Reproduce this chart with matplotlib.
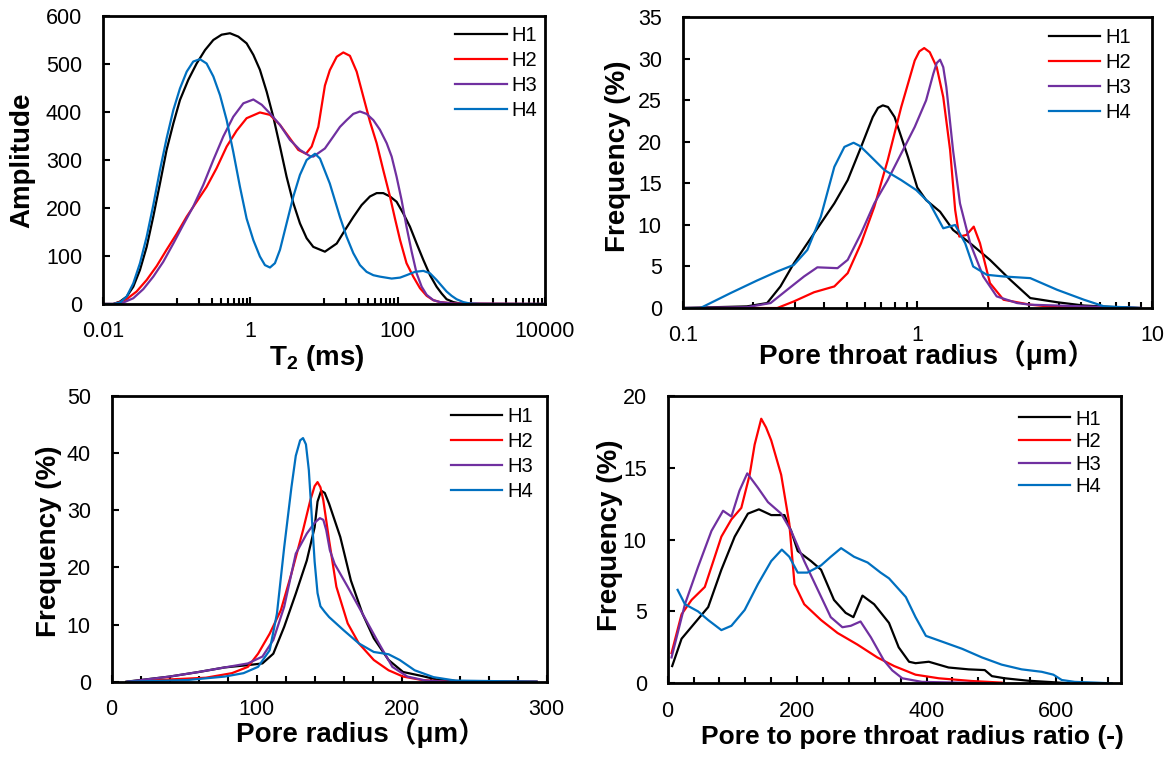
import matplotlib
matplotlib.use('Agg')
import matplotlib.pyplot as plt
from matplotlib.ticker import FixedLocator, MultipleLocator, LogLocator, NullFormatter

plt.rcParams['font.family'] = ['Liberation Sans', 'Noto Sans CJK SC']
plt.rcParams['mathtext.fontset'] = 'custom'
plt.rcParams['mathtext.rm'] = 'Liberation Sans'
plt.rcParams['mathtext.bf'] = 'Liberation Sans:bold'

names = ['H1', 'H2', 'H3', 'H4']
colors = ['#000000', '#FF0000', '#7030A0', '#0070C0']

# NMR T2 spectra
t2_h1 = [0.01, 0.0138, 0.0170, 0.0209, 0.0258, 0.0318, 0.0392, 0.0482, 0.0594, 0.0731,
         0.0902, 0.111, 0.144, 0.187, 0.243, 0.315, 0.408, 0.530, 0.687, 0.891,
         1.10, 1.35, 1.67, 2.05, 2.53, 3.11, 3.84, 4.72, 5.82, 7.16,
         10.3, 14.9, 19.3, 25.0, 32.4, 42.1, 51.9, 63.8, 78.7, 96.8,
         119, 147, 181, 223, 275, 338, 395, 462, 570, 701, 955, 10000]
amp_h1 = [0, 0, 5, 15, 36, 71, 119, 182, 251, 321,
          376, 425, 467, 501, 529, 550, 561, 564, 557, 543,
          519, 488, 442, 390, 328, 265, 210, 168, 137, 119,
          109, 126, 154, 181, 206, 224, 231, 231, 224, 213,
          189, 161, 126, 92, 60, 36, 22, 10, 4, 1, 0, 0]
t2_h2 = [0.01, 0.0138, 0.0170, 0.0209, 0.0286, 0.0392, 0.0536, 0.0731, 0.100, 0.137,
         0.187, 0.255, 0.349, 0.478, 0.652, 0.891, 1.35, 1.85, 2.53, 3.45,
         4.48, 5.70, 6.81, 8.38, 10.3, 12.0, 14.9, 18.3, 22.5, 27.8,
         34.2, 42.1, 51.9, 63.8, 78.7, 92, 108, 132, 163, 201, 248,
         305, 376, 570, 10000]
amp_h2 = [0, 0, 4, 10, 26, 50, 79, 113, 146, 182,
          213, 244, 283, 328, 361, 387, 399, 394, 373, 345,
          321, 313, 328, 369, 455, 487, 515, 524, 517, 484,
          432, 380, 335, 279, 224, 178, 133, 85, 57, 33, 17,
          8, 4, 1, 0]
t2_h3 = [0.01, 0.0138, 0.0189, 0.0258, 0.0353, 0.0482, 0.0659, 0.0902, 0.123, 0.168,
         0.230, 0.315, 0.430, 0.587, 0.804, 1.10, 1.43, 1.85, 2.53, 3.45,
         4.72, 6.46, 7.16, 10.3, 13.4, 16.5, 20.3, 25.0, 30.8, 37.9,
         46.8, 57.5, 71.0, 83.0, 96.8, 113, 132, 155, 181, 212,
         248, 305, 376, 570, 10000]
amp_h3 = [0, 0, 3, 12, 31, 57, 88, 126, 165, 203,
          248, 300, 349, 390, 418, 426, 415, 397, 373, 342,
          321, 308, 307, 324, 349, 369, 383, 396, 401, 396,
          383, 363, 335, 307, 265, 217, 161, 109, 64, 36,
          19, 8, 4, 1, 0]
t2_h4 = [0.01, 0.0138, 0.0170, 0.0209, 0.0258, 0.0318, 0.0392, 0.0482, 0.0594, 0.0731,
         0.0902, 0.111, 0.137, 0.168, 0.207, 0.255, 0.315, 0.388, 0.478, 0.587,
         0.724, 0.891, 1.10, 1.35, 1.58, 1.85, 2.16, 2.53, 3.11, 3.84,
         4.72, 5.82, 7.55, 8.83, 12.0, 16.5, 20.3, 25.0, 30.8, 37.9,
         46.8, 57.5, 83.0, 108, 132, 172, 223, 275, 338, 395,
         462, 541, 631, 778, 955, 1312, 10000]
amp_h4 = [0, 0, 3, 15, 43, 85, 140, 206, 279, 345,
          404, 449, 484, 505, 510, 501, 474, 435, 383, 317,
          244, 178, 133, 99, 81, 76, 85, 113, 168, 224,
          269, 300, 313, 303, 251, 181, 140, 106, 81, 67,
          60, 57, 53, 55, 60, 67, 69, 64, 50, 38,
          26, 17, 10, 4, 1, 0, 0]

# pore throat radius distribution
rt_h1 = [0.1, 0.188, 0.229, 0.261, 0.298, 0.340, 0.388, 0.443, 0.505, 0.576, 0.646, 0.68, 0.713, 0.75, 0.80,
         0.912, 1.0, 1.09, 1.25, 1.42, 1.68, 2.04, 2.49, 3.03, 3.94, 5.13, 7.1, 8.97]
ft_h1 = [0, 0.2, 0.6, 2.6, 5.4, 7.8, 10.2, 12.6, 15.4, 19.4, 23.0, 24.1, 24.4, 24.2, 23.0,
         18.2, 14.5, 13.0, 11.6, 9.4, 7.8, 5.8, 3.4, 1.2, 0.7, 0.3, 0.1, 0]
rt_h2 = [0.1, 0.253, 0.298, 0.363, 0.443, 0.505, 0.576, 0.656, 0.748, 0.854, 0.975, 1.02, 1.07, 1.13, 1.21,
         1.29, 1.38, 1.45, 1.51, 1.62, 1.74, 1.85, 2.04, 2.33, 3.03, 3.94, 5.13, 8.97]
ft_h2 = [0, 0, 0.8, 1.9, 2.6, 4.2, 7.8, 12.2, 17.8, 24.2, 29.8, 30.9, 31.3, 30.8, 29.0,
         25.4, 19.0, 11.8, 8.6, 8.8, 9.8, 7.8, 3.0, 1.0, 0.4, 0.1, 0, 0]
rt_h3 = [0.1, 0.188, 0.237, 0.279, 0.329, 0.375, 0.457, 0.505, 0.576, 0.656, 0.748, 0.854, 0.975, 1.09, 1.17,
         1.21, 1.25, 1.29, 1.33, 1.42, 1.52, 1.68, 1.91, 2.18, 2.66, 3.03, 5.13, 8.97]
ft_h3 = [0, 0.1, 0.6, 2.2, 3.8, 4.9, 4.8, 5.8, 9.0, 12.6, 15.4, 18.6, 21.8, 25.0, 28.2,
         29.5, 29.9, 29.0, 26.6, 19.0, 12.6, 7.8, 3.8, 1.4, 0.6, 0.4, 0.2, 0]
rt_h4 = [0.1, 0.119, 0.160, 0.207, 0.253, 0.298, 0.340, 0.388, 0.443, 0.489, 0.535, 0.57, 0.615, 0.725, 0.854,
         0.99, 1.13, 1.29, 1.45, 1.60, 1.73, 1.98, 2.33, 3.03, 3.94, 5.13, 6.25, 7.6, 8.97]
ft_h4 = [0, 0, 1.8, 3.3, 4.4, 5.2, 7.0, 11.0, 17.0, 19.4, 19.9, 19.5, 18.6, 16.6, 15.4,
         14.2, 12.6, 9.6, 10.0, 7.8, 5.0, 4.0, 3.8, 3.6, 2.2, 1.0, 0.2, 0.1, 0]

# pore radius distribution
rp_h1 = [10, 40, 60, 78, 94, 104, 111.5, 119, 127, 134.6, 140, 142, 144.5, 147, 150, 157.7, 165, 173, 180.8,
         191, 201, 214, 224, 240, 293]
fp_h1 = [0, 0.9, 1.7, 2.5, 2.9, 3.2, 4.9, 9.6, 15.4, 21.2, 27, 31.5, 33.4, 33.0, 31.1, 25.3, 17.7, 11.9, 7.6,
         3.8, 1.7, 1.0, 0.4, 0.1, 0]
rp_h2 = [11, 40, 65, 83, 94, 101, 109, 116.7, 124, 132, 137, 140, 142, 144, 146, 150, 155, 162.8, 170.5,
         180.8, 191, 201, 214, 232, 293]
fp_h2 = [0, 0.4, 0.7, 1.5, 2.6, 4.9, 8.4, 12.5, 18.9, 26.5, 31.7, 34.2, 34.9, 34.0, 31.7, 24.7, 16.6, 10.2, 6.7,
         3.8, 2.0, 0.9, 0.3, 0, 0]
rp_h3 = [11, 40, 60, 78, 94, 104, 111.5, 119, 127, 134.6, 140, 143.6, 146, 148, 150.5, 153.8, 162.8, 173, 183,
         193.6, 204, 216.7, 232, 293]
fp_h3 = [0, 0.9, 1.7, 2.5, 3.2, 4.4, 7.3, 13.1, 22.4, 25.9, 27.8, 28.6, 28.3, 26.5, 23.0, 20.6, 16.6, 11.9, 7.3,
         2.6, 0.9, 0.2, 0, 0]
rp_h4 = [11, 52.6, 78, 91, 101, 109, 114, 119, 124, 127, 130, 132, 134, 136, 138, 140, 142, 144, 147, 150,
         160, 170.5, 180.8, 191, 198.7, 209, 222, 237, 293]
fp_h4 = [0, 0.3, 0.9, 1.5, 2.6, 5.5, 11.9, 23.5, 34.0, 39.5, 42.2, 42.6, 41.5, 37.0, 29.0, 21.0, 15.5, 13.2, 12.2,
         11.3, 9.0, 6.7, 5.2, 4.8, 3.8, 2.0, 0.8, 0.2, 0]

# pore to pore throat radius ratio
rr_h1 = [7, 21.5, 42, 62.6, 83, 103.6, 124, 141, 160, 180.5, 190.8, 201, 221.5, 237, 257, 275, 287, 301, 319, 342,
         357, 373, 383, 403.5, 434, 465, 490, 501, 521, 557, 598, 620]
fr_h1 = [1.2, 3.1, 4.2, 5.3, 7.9, 10.2, 11.8, 12.1, 11.7, 11.7, 10.6, 9.2, 8.5, 7.9, 5.8, 4.9, 4.6, 6.1, 5.5, 4.2,
         2.5, 1.5, 1.4, 1.5, 1.1, 0.97, 0.92, 0.5, 0.35, 0.18, 0.07, 0]
rr_h2 = [6, 21.5, 37, 57.4, 72.8, 83, 98.5, 113.8, 126.7, 134.4, 144.6, 152, 160, 175.4, 188, 196, 211, 237,
         262.5, 293, 324, 350, 383, 419, 470, 516]
fr_h2 = [2.1, 4.8, 5.8, 6.7, 8.8, 10.2, 11.4, 12.2, 14.5, 16.6, 18.4, 17.8, 16.9, 14.5, 11.1, 6.9, 5.5, 4.4,
         3.5, 2.7, 1.8, 1.2, 0.6, 0.35, 0.16, 0.05]
rr_h3 = [6, 26.7, 47, 67.7, 85.6, 98.5, 111, 123, 139.5, 155, 175.4, 190.8, 211, 232, 252, 270, 283, 298,
         314, 334, 347, 362.5, 393, 501]
fr_h3 = [1.8, 5.5, 8.1, 10.6, 12.0, 11.6, 13.4, 14.6, 13.6, 12.6, 11.8, 10.6, 8.5, 6.5, 4.6, 3.9, 4.0, 4.3,
         3.2, 1.6, 0.9, 0.35, 0.1, 0]
rr_h4 = [15.4, 26.7, 47, 62.6, 83, 98.5, 119, 139.5, 160, 176.4, 188, 201, 216, 237, 252, 268, 288, 309, 329,
         342, 368, 383, 399, 424, 455, 485.6, 516, 547, 578, 596, 609, 629, 660, 686]
fr_h4 = [6.5, 5.5, 5.0, 4.4, 3.7, 4.0, 5.1, 6.9, 8.5, 9.3, 8.8, 7.7, 7.7, 8.2, 8.8, 9.4, 8.8, 8.4, 7.7,
         7.3, 6.0, 4.6, 3.3, 2.9, 2.4, 1.8, 1.3, 0.97, 0.8, 0.6, 0.23, 0.1, 0.05, 0]


def style(ax):
    for s in ax.spines.values():
        s.set_linewidth(2)
    ax.tick_params(which='both', direction='in', top=False, right=False, labelsize=15.5, width=1.5)
    ax.tick_params(which='major', length=5)
    ax.tick_params(which='minor', length=4)
    ax.tick_params(axis='x', which='both', pad=12.5)
    ax.tick_params(axis='y', which='both', pad=15)


def draw(ax, xs, ys, leg_xy, spacing=0.3):
    for x, y, n, c in zip(xs, ys, names, colors):
        ax.plot(x, y, color=c, lw=1.6, label=n, solid_joinstyle='round')
    ax.legend(loc='upper right', bbox_to_anchor=leg_xy, frameon=False, fontsize=14.5, handlelength=2.55,
              handletextpad=0.25, labelspacing=spacing, borderpad=0, borderaxespad=0)
    style(ax)


fig = plt.figure(figsize=(11.74, 7.6), dpi=100)
ax1 = fig.add_axes([0.0877, 0.600, 0.3765, 0.379])
ax2 = fig.add_axes([0.5815, 0.5947, 0.3997, 0.3825])
ax3 = fig.add_axes([0.0951, 0.1030, 0.3705, 0.3763])
ax4 = fig.add_axes([0.5687, 0.1009, 0.3859, 0.3784])

# top left
ax1.set_xscale('log')
draw(ax1, [t2_h1, t2_h2, t2_h3, t2_h4], [amp_h1, amp_h2, amp_h3, amp_h4], (0.983, 0.965))
ax1.set_xlim(0.01, 10000)
ax1.set_ylim(0, 600)
ax1.xaxis.set_major_locator(FixedLocator([0.01, 1, 100, 10000]))
ax1.set_xticklabels(['0.01', '1', '100', '10000'])
ax1.xaxis.set_minor_locator(FixedLocator([m * 10.0 ** e for e in (-1, 1, 3) for m in range(1, 10)]))
ax1.xaxis.set_minor_formatter(NullFormatter())
ax1.yaxis.set_major_locator(MultipleLocator(100))
ax1.set_ylabel('Amplitude', fontsize=20, fontweight='bold')
ax1.yaxis.set_label_coords(-0.154, 0.5)
ax1.set_xlabel(r'$\mathbf{T_2}$ (ms)', fontsize=20, fontweight='bold')
ax1.xaxis.set_label_coords(0.484, -0.135)

# top right
ax2.set_xscale('log')
draw(ax2, [rt_h1, rt_h2, rt_h3, rt_h4], [ft_h1, ft_h2, ft_h3, ft_h4], (0.955, 0.964))
ax2.set_xlim(0.1, 10)
ax2.set_ylim(0, 35)
ax2.xaxis.set_major_locator(FixedLocator([0.1, 1, 10]))
ax2.set_xticklabels(['0.1', '1', '10'])
ax2.xaxis.set_minor_locator(LogLocator(base=10, subs=range(2, 10)))
ax2.xaxis.set_minor_formatter(NullFormatter())
ax2.yaxis.set_major_locator(MultipleLocator(5))
ax2.set_ylabel('Frequency (%)', fontsize=20, fontweight='bold')
ax2.yaxis.set_label_coords(-0.110, 0.523)
ax2.set_xlabel('Pore throat radius（μm）', fontsize=20, fontweight='bold')
ax2.xaxis.set_label_coords(0.52, -0.11)

# bottom left
draw(ax3, [rp_h1, rp_h2, rp_h3, rp_h4], [fp_h1, fp_h2, fp_h3, fp_h4], (0.968, 0.962))
ax3.set_xlim(0, 300)
ax3.set_ylim(0, 50)
ax3.xaxis.set_major_locator(MultipleLocator(100))
ax3.xaxis.set_minor_locator(MultipleLocator(20))
ax3.yaxis.set_major_locator(MultipleLocator(10))
ax3.set_ylabel('Frequency (%)', fontsize=20, fontweight='bold')
ax3.yaxis.set_label_coords(-0.114, 0.49)
ax3.set_xlabel('Pore radius（μm）', fontsize=20, fontweight='bold')
ax3.xaxis.set_label_coords(0.573, -0.127)

# bottom right
draw(ax4, [rr_h1, rr_h2, rr_h3, rr_h4], [fr_h1, fr_h2, fr_h3, fr_h4], (0.956, 0.952), spacing=0.18)
ax4.set_xlim(0, 700)
ax4.set_ylim(0, 20)
ax4.xaxis.set_major_locator(MultipleLocator(200))
ax4.xaxis.set_minor_locator(MultipleLocator(40))
ax4.yaxis.set_major_locator(MultipleLocator(5))
ax4.set_ylabel('Frequency (%)', fontsize=20, fontweight='bold')
ax4.yaxis.set_label_coords(-0.099, 0.516)
ax4.set_xlabel('Pore to pore throat radius ratio (-)', fontsize=19, fontweight='bold')
ax4.xaxis.set_label_coords(0.54, -0.145)

fig.savefig('out.png', dpi=100)
